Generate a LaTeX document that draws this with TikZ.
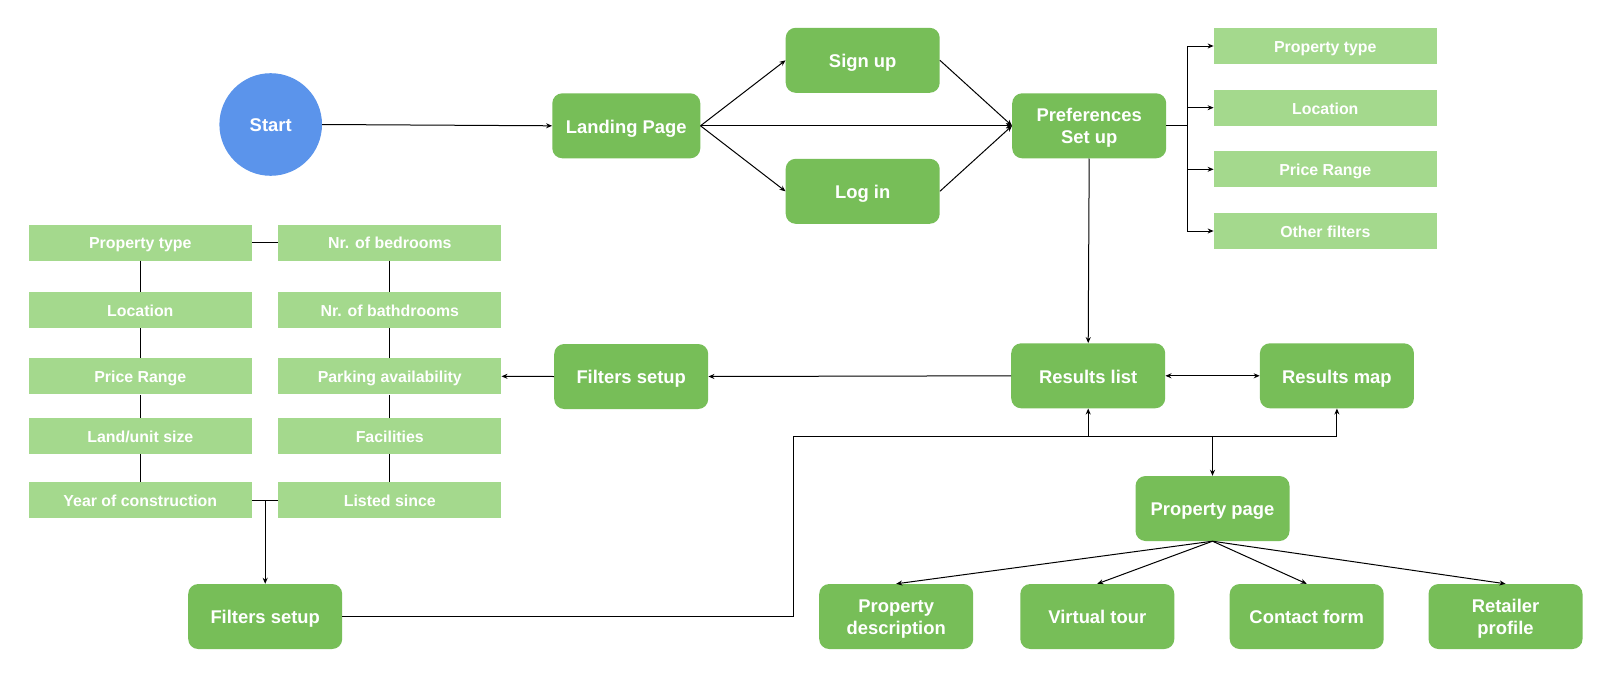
\documentclass[tikz,border=0pt]{standalone}
\usepackage{fontspec}
\setmainfont{Liberation Sans}
\usetikzlibrary{arrows.meta}
\definecolor{dgreen}{RGB}{119,190,88}
\definecolor{lgreen}{RGB}{164,217,141}
\definecolor{sblue}{RGB}{91,148,235}
\newcommand{\firststrut}{\rule{0pt}{17.8pt}}
\tikzset{
  bigbase/.style={fill=dgreen, draw=none, rounded corners=10pt, minimum width=154pt, minimum height=65pt,
    text=white, font=\fontsize{18.4}{21.7}\selectfont\bfseries, align=center, inner sep=0pt},
  bigbox/.style={bigbase, text height=14.8pt, text depth=0pt},
  bigtwo/.style={bigbase},
  smallbox/.style={fill=lgreen, draw=none, minimum width=223pt, minimum height=36pt,
    text=white, font=\fontsize{15.9}{18}\selectfont\bfseries, inner sep=0pt,
    text height=12.6pt, text depth=0pt},
  startnode/.style={circle, fill=sblue, minimum size=102.6pt, inner sep=0pt,
    text=white, font=\fontsize{18.4}{21.5}\selectfont\bfseries, text height=14.5pt, text depth=0pt},
  conn/.style={line width=1pt, draw=black},
  arr/.style={conn, -{Stealth[length=6pt,width=5pt]}},
  darr/.style={conn, {Stealth[length=6pt,width=5pt]}-{Stealth[length=6pt,width=5pt]}}
}
\begin{document}
\begin{tikzpicture}[x=1pt,y=-1pt]
\useasboundingbox[fill=white] (0,0) rectangle (1611,680);
% top flow
\node[startnode] (start) at (270.7,124.5) {Start};
\node[bigbox, minimum width=148pt] (landing) at (626.3,125.8) {Landing Page};
\node[bigbox] (signup) at (862.7,60.3) {Sign up};
\node[bigbox] (login) at (862.7,191.3) {Log in};
\node[bigtwo] (prefs) at (1089.2,125.8) {\firststrut Preferences\\Set up};
% preference options
\node[smallbox] (pt) at (1325.3,46) {Property type};
\node[smallbox] (loc) at (1325.3,107.7) {Location};
\node[smallbox] (pr) at (1325.3,169.3) {Price Range};
\node[smallbox] (of) at (1325.3,231) {Other filters};
% results
\node[bigbox] (rlist) at (1088.2,375.8) {Results list};
\node[bigbox] (rmap) at (1336.9,375.8) {Results map};
\node[bigbox] (fmid) at (631.2,376.5) {Filters setup};
\node[bigbox] (fbot) at (265.2,616.5) {Filters setup};
\node[bigbox] (ppage) at (1212.5,508.5) {Property page};
\node[bigtwo] (pdesc) at (896.2,616.5) {\firststrut Property\\description};
\node[bigbox] (vtour) at (1097.3,616.5) {Virtual tour};
\node[bigbox] (cform) at (1306.7,616.5) {Contact form};
\node[bigtwo] (rprof) at (1505.5,616.5) {\firststrut Retailer\\profile};
% filter grid
\node[smallbox] (l1) at (140.3,242.5) {Property type};
\node[smallbox] (l2) at (140.3,309.7) {Location};
\node[smallbox] (l3) at (140.3,376.3) {Price Range};
\node[smallbox] (l4) at (140.3,436.2) {Land/unit size};
\node[smallbox] (l5) at (140.3,500.3) {Year of construction};
\node[smallbox] (r1) at (389.8,242.5) {Nr. of bedrooms};
\node[smallbox] (r2) at (389.8,309.7) {Nr. of bathdrooms};
\node[smallbox] (r3) at (389.8,376.3) {Parking availability};
\node[smallbox] (r4) at (389.8,436.2) {Facilities};
\node[smallbox] (r5) at (389.8,500.3) {Listed since};
% helper coordinates
\coordinate (bus) at (1187,125.8);
\coordinate (busT) at (1187,46);
\coordinate (busB) at (1187,231);
\coordinate (yl) at (265.2,500.3);
\coordinate (c1) at (793.3,616.5);
\coordinate (c2) at (793.3,436.3);
\coordinate (jl) at (1088.2,436.3);
\coordinate (jp) at (1212.5,436.3);
\coordinate (jm) at (1336.9,436.3);
% connectors top
\draw[arr] (start.east) -- (landing.west);
\draw[arr] (landing.east) -- (signup.west);
\draw[arr] (landing.east) -- (login.west);
\draw[arr] (landing.east) -- (prefs.west);
\draw[arr] (signup.east) -- (prefs.west);
\draw[arr] (login.east) -- (prefs.west);
\draw[conn] (prefs.east) -- (bus);
\draw[conn] (busT) -- (busB);
\draw[arr] (busT) -- (pt.west);
\draw[arr] (busT |- loc.west) -- (loc.west);
\draw[arr] (busT |- pr.west) -- (pr.west);
\draw[arr] (busB) -- (of.west);
\draw[arr] (prefs.south) -- (rlist.north);
\draw[darr] (rlist.east) -- (rmap.west);
\draw[arr] (rlist.west) -- (fmid.east);
\draw[arr] (fmid.west) -- (r3.east);
% grid lines
\draw[conn] (l1.south) -- (l2.north);
\draw[conn] (l2.south) -- (l3.north);
\draw[conn] (l3.south) -- (l4.north);
\draw[conn] (l4.south) -- (l5.north);
\draw[conn] (r1.south) -- (r2.north);
\draw[conn] (r2.south) -- (r3.north);
\draw[conn] (r3.south) -- (r4.north);
\draw[conn] (r4.south) -- (r5.north);
\draw[conn] (l1.east) -- (r1.west);
\draw[conn] (l5.east) -- (r5.west);
\draw[arr] (yl) -- (fbot.north);
% bottom loop
\draw[conn] (fbot.east) -- (c1) -- (c2) -- (jm);
\draw[arr] (jm) -- (rmap.south);
\draw[arr] (jl) -- (rlist.south);
\draw[arr] (jp) -- (ppage.north);
% property page children
\draw[arr] (ppage.south) -- (pdesc.north);
\draw[arr] (ppage.south) -- (vtour.north);
\draw[arr] (ppage.south) -- (cform.north);
\draw[arr] (ppage.south) -- (rprof.north);
\end{tikzpicture}
\end{document}
